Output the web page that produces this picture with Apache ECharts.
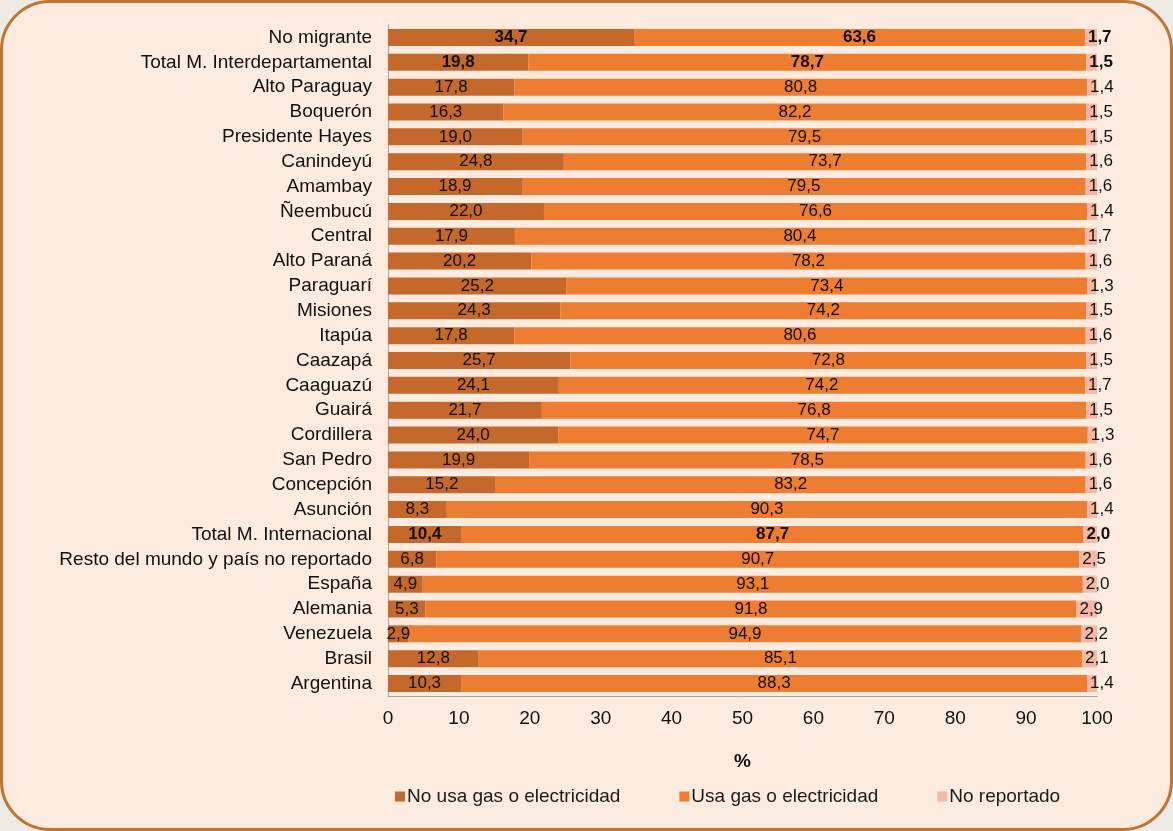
<!DOCTYPE html>
<html>
<head>
<meta charset="utf-8">
<script src="https://cdn.jsdelivr.net/npm/echarts@6/dist/echarts.min.js"></script>
<style>
  html, body { margin: 0; padding: 0; background: #EEEBE6; }
  #frame { position: absolute; left: 0; top: 0; width: 1173px; height: 831px; box-sizing: border-box;
           border: 3px solid #C4732C; border-radius: 50px; background: #FDEBDF; }
  #chart { position: absolute; left: 0; top: 0; width: 1173px; height: 831px; }
</style>
</head>
<body>
<div id="frame"></div>
<div id="chart"></div>
<script>
const categories = [
  'No migrante', 'Total M. Interdepartamental', 'Alto Paraguay', 'Boquerón', 'Presidente Hayes',
  'Canindeyú', 'Amambay', 'Ñeembucú', 'Central', 'Alto Paraná', 'Paraguarí', 'Misiones',
  'Itapúa', 'Caazapá', 'Caaguazú', 'Guairá', 'Cordillera', 'San Pedro', 'Concepción',
  'Asunción', 'Total M. Internacional', 'Resto del mundo y país no reportado', 'España',
  'Alemania', 'Venezuela', 'Brasil', 'Argentina'
];
const noUsa = [34.7, 19.8, 17.8, 16.3, 19.0, 24.8, 18.9, 22.0, 17.9, 20.2, 25.2, 24.3, 17.8, 25.7,
  24.1, 21.7, 24.0, 19.9, 15.2, 8.3, 10.4, 6.8, 4.9, 5.3, 2.9, 12.8, 10.3];
const usa = [63.6, 78.7, 80.8, 82.2, 79.5, 73.7, 79.5, 76.6, 80.4, 78.2, 73.4, 74.2, 80.6, 72.8,
  74.2, 76.8, 74.7, 78.5, 83.2, 90.3, 87.7, 90.7, 93.1, 91.8, 94.9, 85.1, 88.3];
const noRep = [1.7, 1.5, 1.4, 1.5, 1.5, 1.6, 1.6, 1.4, 1.7, 1.6, 1.3, 1.5, 1.6, 1.5,
  1.7, 1.5, 1.3, 1.6, 1.6, 1.4, 2.0, 2.5, 2.0, 2.9, 2.2, 2.1, 1.4];
const boldRows = ['No migrante', 'Total M. Interdepartamental', 'Total M. Internacional'];
const seriesNames = ['No usa gas o electricidad', 'Usa gas o electricidad', 'No reportado'];
const colors = ['#C5682B', '#ED7D31', '#F4B9A5'];

const fmt = v => v.toFixed(1).replace('.', ',');
const toItems = arr => arr.map((v, i) => ({
  value: v,
  label: { fontWeight: boldRows.includes(categories[i]) ? 'bold' : 'normal' }
}));

const chart = echarts.init(document.getElementById('chart'), null, { renderer: 'canvas' });
const labelBase = { show: true, fontFamily: 'Liberation Sans, Arial, sans-serif', fontSize: 17, color: '#111', formatter: p => fmt(p.value) };

chart.setOption({
  backgroundColor: 'transparent',
  animation: false,
  textStyle: { fontFamily: 'Liberation Sans, Arial, sans-serif' },
  grid: { left: 388, top: 25, width: 709, height: 671, containLabel: false },
  legend: {
    left: 395, top: 787, padding: 0, itemWidth: 10, itemHeight: 10, itemGap: 59,
    icon: 'rect',
    textStyle: { fontSize: 19, color: '#1a1a1a', padding: [0, 0, 0, -3] },
    data: seriesNames
  },
  xAxis: {
    type: 'value', min: 0, max: 100, interval: 10,
    name: '%', nameLocation: 'middle', nameGap: 56,
    nameTextStyle: { fontSize: 19, fontWeight: 'bold', color: '#111' },
    axisLine: { show: true, lineStyle: { color: '#A6A6A6', width: 1 } },
    axisTick: { show: false },
    splitLine: { show: false },
    axisLabel: { fontSize: 19, color: '#111', margin: 13 }
  },
  yAxis: {
    type: 'category', inverse: true, data: categories,
    axisLine: { show: true, lineStyle: { color: '#A6A6A6', width: 1 } },
    axisTick: { show: false },
    axisLabel: { fontSize: 19, color: '#111', margin: 16, lineHeight: 24, verticalAlign: 'middle' }
  },
  series: [
    {
      name: seriesNames[0], type: 'bar', stack: 'total', barWidth: 17,
      itemStyle: { color: colors[0] },
      label: Object.assign({}, labelBase, { position: 'inside' }),
      data: toItems(noUsa)
    },
    {
      name: seriesNames[1], type: 'bar', stack: 'total', barWidth: 17,
      itemStyle: { color: colors[1] },
      label: Object.assign({}, labelBase, { position: 'inside' }),
      data: toItems(usa)
    },
    {
      name: seriesNames[2], type: 'bar', stack: 'total', barWidth: 17,
      itemStyle: { color: colors[2] },
      label: Object.assign({}, labelBase, { position: 'insideLeft', distance: 3 }),
      data: toItems(noRep)
    }
  ]
});
</script>
</body>
</html>
